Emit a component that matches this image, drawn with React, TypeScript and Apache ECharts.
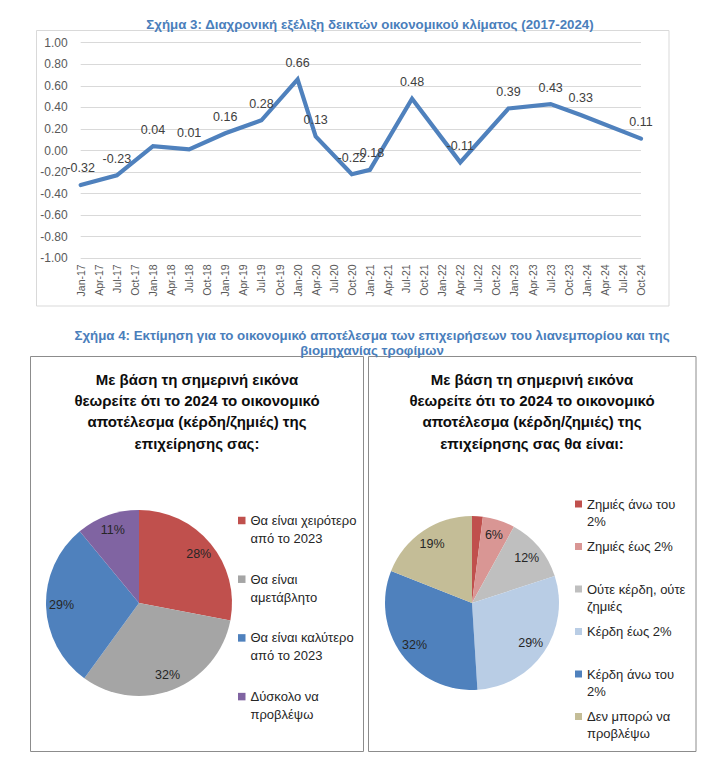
import React, { useEffect, useRef } from "react";
import * as echarts from "echarts";

// ---------- Figure 3 data ----------
const monthAbbr = ["Jan", "Feb", "Mar", "Apr", "May", "Jun", "Jul", "Aug", "Sep", "Oct", "Nov", "Dec"];
const yearSuffixes = ["17", "18", "19", "20", "21", "22", "23", "24"];
// monthly category axis Jan-17 .. Oct-24 (labels shown every 3rd month)
const monthCategories = yearSuffixes
  .flatMap((y) => monthAbbr.map((m) => `${m}-${y}`))
  .slice(0, 94);

const surveyMonths = [
  "Jan-17", "Jul-17", "Jan-18", "Jul-18", "Jan-19", "Jul-19", "Jan-20", "Apr-20",
  "Oct-20", "Jan-21", "Aug-21", "Apr-22", "Dec-22", "Jul-23", "Dec-23", "Oct-24",
];
const climateIndex = [
  -0.32, -0.23, 0.04, 0.01, 0.16, 0.28, 0.66, 0.13,
  -0.22, -0.18, 0.48, -0.11, 0.39, 0.43, 0.33, 0.11,
];

// ---------- Figure 4 data ----------
const leftNames = [
  "Θα είναι χειρότερο από το 2023",
  "Θα είναι αμετάβλητο",
  "Θα είναι καλύτερο από το 2023",
  "Δύσκολο να προβλέψω",
];
const leftLegendText = [
  "Θα είναι χειρότερο\nαπό το 2023",
  "Θα είναι\nαμετάβλητο",
  "Θα είναι καλύτερο\nαπό το 2023",
  "Δύσκολο να\nπροβλέψω",
];
const leftValues = [28, 32, 29, 11];
const leftColors = ["#C0504D", "#A5A5A5", "#4F81BD", "#8064A2"];

const rightNames = [
  "Ζημιές άνω του 2%",
  "Ζημιές έως 2%",
  "Ούτε κέρδη, ούτε ζημιές",
  "Κέρδη έως 2%",
  "Κέρδη άνω του 2%",
  "Δεν μπορώ να προβλέψω",
];
const rightLegendText = [
  "Ζημιές άνω του\n2%",
  "Ζημιές έως 2%\n ",
  "Ούτε κέρδη, ούτε\nζημιές",
  "Κέρδη έως 2%\n ",
  "Κέρδη άνω του\n2%",
  "Δεν μπορώ να\nπροβλέψω",
];
const rightValues = [2, 6, 12, 29, 32, 19];
const rightColors = ["#C0504D", "#D99694", "#BFBFBF", "#B9CDE5", "#4F81BD", "#C4BD97"];

const title3 = "Σχήμα 3: Διαχρονική εξέλιξη δεικτών οικονομικού κλίματος (2017-2024)";
const title4 =
  "Σχήμα 4: Εκτίμηση για το οικονομικό αποτέλεσμα των επιχειρήσεων του λιανεμπορίου και της\nβιομηχανίας τροφίμων";
const leftPieTitle =
  "Με βάση τη σημερινή εικόνα\nθεωρείτε ότι το 2024 το οικονομικό\nαποτέλεσμα (κέρδη/ζημιές) της\nεπιχείρησης σας:";
const rightPieTitle =
  "Με βάση τη σημερινή εικόνα\nθεωρείτε ότι το 2024 το οικονομικό\nαποτέλεσμα (κέρδη/ζημιές) της\nεπιχείρησης σας θα είναι:";

const FONT = "'Liberation Sans', Arial, sans-serif";

export default function App() {
  const ref = useRef<HTMLDivElement>(null);

  useEffect(() => {
    document.body.style.margin = "0";
    if (!ref.current) return;
    const chart = echarts.init(ref.current, null, { renderer: "svg" });

    const pieData = (names: string[], values: number[], colors: string[]) =>
      names.map((n, i) => ({ name: n, value: values[i], itemStyle: { color: colors[i] } }));
    const labelData = (names: string[], values: number[]) =>
      names.map((n, i) => ({ name: n, value: values[i] }));

    const option: any = {
      animation: false,
      backgroundColor: "#ffffff",
      textStyle: { fontFamily: FONT },
      title: [
        {
          text: title3,
          left: 370,
          top: 16.5,
          textAlign: "center",
          padding: 0,
          textStyle: { fontSize: 13.3, fontWeight: "bold", color: "#4A7EBB", lineHeight: 15, fontFamily: FONT },
        },
        {
          text: title4,
          left: 372,
          top: 328,
          textAlign: "center",
          padding: 0,
          textStyle: { fontSize: 13.3, fontWeight: "bold", color: "#4A7EBB", lineHeight: 14.7, fontFamily: FONT },
        },
        {
          text: leftPieTitle,
          left: 197,
          top: 368.7,
          textAlign: "center",
          padding: 0,
          textStyle: { fontSize: 15, fontWeight: "bold", color: "#0D0D0D", lineHeight: 21.3, fontFamily: FONT },
        },
        {
          text: rightPieTitle,
          left: 532,
          top: 368.7,
          textAlign: "center",
          padding: 0,
          textStyle: { fontSize: 15, fontWeight: "bold", color: "#0D0D0D", lineHeight: 21.3, fontFamily: FONT },
        },
      ],
      graphic: [
        {
          type: "rect",
          z: -10,
          shape: { x: 36.5, y: 30.5, width: 632.5, height: 275.5 },
          style: { fill: "none", stroke: "#D9D9D9", lineWidth: 1 },
          silent: true,
        },
        {
          type: "rect",
          z: -10,
          shape: { x: 30.5, y: 356.5, width: 333, height: 395 },
          style: { fill: "none", stroke: "#8C8C8C", lineWidth: 1 },
          silent: true,
        },
        {
          type: "rect",
          z: -10,
          shape: { x: 368.5, y: 356.5, width: 327.5, height: 395 },
          style: { fill: "none", stroke: "#8C8C8C", lineWidth: 1 },
          silent: true,
        },
      ],
      grid: {
        left: 80.7,
        right: 81,
        top: 42.7,
        bottom: 507.7,
        outerBoundsMode: "none",
        containLabel: false,
      },
      xAxis: {
        type: "category",
        data: monthCategories,
        boundaryGap: false,
        axisLine: { show: false },
        axisTick: { show: false },
        splitLine: { show: false },
        axisLabel: {
          interval: 2,
          rotate: 90,
          fontSize: 10.5,
          color: "#595959",
          margin: 6,
          fontFamily: FONT,
        },
      },
      yAxis: {
        type: "value",
        min: -1,
        max: 1,
        interval: 0.2,
        axisLine: { show: false },
        axisTick: { show: false },
        splitLine: { show: true, lineStyle: { color: "#D9D9D9", width: 1 } },
        axisLabel: {
          fontSize: 12,
          color: "#595959",
          margin: 13,
          fontFamily: FONT,
          formatter: (v: number) => v.toFixed(2),
        },
      },
      legend: [
        {
          orient: "vertical",
          left: 238,
          top: 511.5,
          padding: 0,
          itemWidth: 7.5,
          itemHeight: 25.5,
          itemGap: 22.7,
          selectedMode: false,
          icon: "path://M0,0h7.5v7.5h-7.5zM0,25.5",
          data: leftNames,
          formatter: (name: string) => leftLegendText[leftNames.indexOf(name)],
          textStyle: { fontSize: 13, lineHeight: 18, color: "#262626", fontFamily: FONT },
        },
        {
          orient: "vertical",
          left: 575,
          top: 495.5,
          padding: 0,
          itemWidth: 7,
          itemHeight: 24,
          itemGap: 8.5,
          selectedMode: false,
          icon: "path://M0,0h7v7h-7zM0,24",
          data: rightNames,
          formatter: (name: string) => rightLegendText[rightNames.indexOf(name)],
          textStyle: { fontSize: 13, lineHeight: 17, color: "#262626", fontFamily: FONT },
        },
      ],
      series: [
        {
          type: "line",
          name: "climate",
          data: surveyMonths.map((m, i) => [m, climateIndex[i]]),
          symbol: "circle",
          symbolSize: 4,
          showAllSymbol: true,
          itemStyle: { color: "rgba(0,0,0,0)" },
          lineStyle: { color: "#4F81BD", width: 4.2, cap: "round", join: "miter" },
          label: {
            show: true,
            position: "top",
            distance: 8,
            fontSize: 12.5,
            color: "#404040",
            fontFamily: FONT,
            formatter: (p: any) => (p.value[1] as number).toFixed(2),
          },
          emphasis: { disabled: true },
        },
        {
          type: "pie",
          name: "left",
          center: [139, 603],
          radius: [0, 93],
          startAngle: 90,
          clockwise: true,
          label: { show: false },
          labelLine: { show: false },
          itemStyle: { borderWidth: 0 },
          emphasis: { disabled: true },
          data: pieData(leftNames, leftValues, leftColors),
        },
        {
          type: "pie",
          name: "right",
          center: [472, 603],
          radius: [0, 87],
          startAngle: 90,
          clockwise: true,
          label: { show: false },
          labelLine: { show: false },
          itemStyle: { borderWidth: 0 },
          emphasis: { disabled: true },
          data: pieData(rightNames, rightValues, rightColors),
        },
        {
          type: "pie",
          name: "leftLabels",
          center: [139, 603],
          radius: [56, 93],
          startAngle: 90,
          clockwise: true,
          silent: true,
          itemStyle: { color: "rgba(0,0,0,0)", borderWidth: 0 },
          label: {
            show: true,
            position: "inside",
            formatter: "{c}%",
            fontSize: 12.5,
            color: "#262626",
            fontFamily: FONT,
          },
          labelLine: { show: false },
          data: labelData(leftNames, leftValues),
        },
        {
          type: "pie",
          name: "rightLabels",
          center: [472, 603],
          radius: [49, 87],
          startAngle: 90,
          clockwise: true,
          silent: true,
          itemStyle: { color: "rgba(0,0,0,0)", borderWidth: 0 },
          label: {
            show: true,
            position: "inside",
            formatter: "{c}%",
            fontSize: 12.5,
            color: "#262626",
            fontFamily: FONT,
          },
          labelLine: { show: false },
          data: labelData(rightNames, rightValues),
        },
      ],
    };

    chart.setOption(option);
    return () => {
      chart.dispose();
    };
  }, []);

  return (
    <div
      ref={ref}
      style={{ position: "absolute", left: 0, top: 0, width: 722, height: 766 }}
    />
  );
}
